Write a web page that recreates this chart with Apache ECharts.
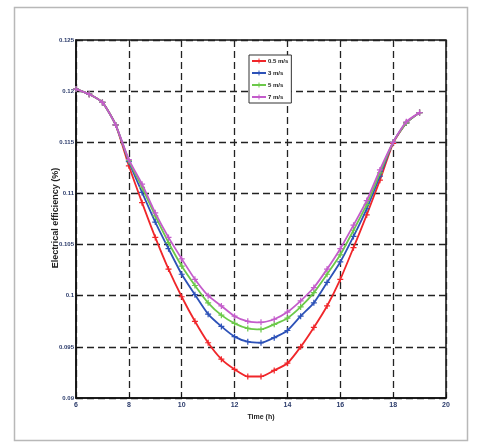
<!DOCTYPE html>
<html><head><meta charset="utf-8">
<script src="https://cdn.jsdelivr.net/npm/echarts@6/dist/echarts.min.js"></script>
<style>html,body{margin:0;padding:0;background:#fff}#c{width:482px;height:443px}</style>
</head><body><div id="c"></div>
<script>
const times = [6,6.5,7,7.5,8,8.5,9,9.5,10,10.5,11,11.5,12,12.5,13,13.5,14,14.5,15,15.5,16,16.5,17,17.5,18,18.5,19];
const s05 = [0.1202,0.1197,0.1189,0.1167,0.1127,0.1091,0.1057,0.1026,0.0999,0.0975,0.0954,0.0938,0.0928,0.0921,0.0921,0.0927,0.0934,0.0950,0.0969,0.0990,0.1016,0.1047,0.1079,0.1113,0.1149,0.1169,0.1179];
const s3  = [0.1202,0.1197,0.1189,0.1167,0.1131,0.1101,0.1072,0.1046,0.1021,0.1001,0.0982,0.0970,0.0960,0.0955,0.0954,0.0959,0.0966,0.0980,0.0993,0.1013,0.1033,0.1058,0.1085,0.1117,0.1150,0.1169,0.1179];
const s5  = [0.1202,0.1197,0.1189,0.1167,0.1132,0.1106,0.1078,0.1052,0.1029,0.1010,0.0993,0.0981,0.0973,0.0968,0.0967,0.0972,0.0978,0.0989,0.1003,0.1021,0.1040,0.1064,0.1089,0.1120,0.1150,0.1169,0.1179];
const s7  = [0.1202,0.1197,0.1189,0.1167,0.1133,0.1109,0.1081,0.1057,0.1036,0.1016,0.1000,0.0990,0.0980,0.0975,0.0974,0.0977,0.0984,0.0995,0.1008,0.1026,0.1046,0.1069,0.1093,0.1123,0.1150,0.1170,0.1179];
const seriesNames = ['0.5 m/s','3 m/s','5 m/s','7 m/s'];
const seriesData = [s05, s3, s5, s7];
const colors = ['#f0262a','#2d52b8','#6cc94a','#c45ccb'];
const yTitle = 'Electrical efficiency (%)';

const plus = 'path://M4,0L6,0L6,4L10,4L10,6L6,6L6,10L4,10L4,6L0,6L0,4L4,4Z';
const chart = echarts.init(document.getElementById('c'));
const dash = {type:[7,4], color:'#222', width:1.3};
chart.setOption({
  animation:false,
  backgroundColor:'#fff',
  graphic:[
    {type:'rect', shape:{x:14.5,y:7.5,width:453,height:433}, style:{fill:'none', stroke:'#b8b8b8', lineWidth:1.5}, silent:true},
    {type:'text', x:56, y:218, rotation:Math.PI/2, silent:true,
     style:{text:yTitle, fontSize:9, fontWeight:'bold', fill:'#222', fontFamily:'Liberation Sans', align:'center', verticalAlign:'middle'}}
  ],
  grid:{left:76, right:36, top:40, bottom:45, show:true, borderColor:'#111', borderWidth:1.5, backgroundColor:'transparent'},
  legend:{
    data:seriesNames, orient:'vertical', left:249, top:55, itemWidth:14, itemHeight:6, itemGap:6,
    backgroundColor:'#fff', borderColor:'#333', borderWidth:1, padding:[3,3,3,2],
    textStyle:{fontSize:6, fontWeight:'bold', color:'#222', fontFamily:'Liberation Sans', padding:[0,0,0,-3]}
  },
  xAxis:{type:'value', min:6, max:20, interval:2,
    name:'Time (h)', nameLocation:'middle', nameGap:15,
    nameTextStyle:{fontSize:7, fontWeight:'bold', color:'#222', fontFamily:'Liberation Sans'},
    axisLine:{show:true, lineStyle:{color:'#111', width:1.5}},
    axisTick:{inside:true, length:4, lineStyle:{color:'#111'}},
    axisLabel:{fontSize:7, fontWeight:'bold', color:'#2a3a6a', margin:4, fontFamily:'Liberation Sans'},
    splitLine:{show:true, lineStyle:dash}
  },
  yAxis:{type:'value', min:0.09, max:0.125, interval:0.005,
    axisLine:{show:true, lineStyle:{color:'#111', width:1.5}},
    axisTick:{inside:true, length:4, lineStyle:{color:'#111'}},
    axisLabel:{fontSize:6, fontWeight:'bold', color:'#2a3a6a', margin:2, fontFamily:'Liberation Sans',
      formatter:v=>String(parseFloat(v.toFixed(3)))},
    splitLine:{show:true, lineStyle:dash}
  },
  series: seriesNames.map((n,i)=>({
    name:n, type:'line', data: times.map((t,j)=>[t, seriesData[i][j]]),
    symbol:plus, symbolSize:6, showSymbol:true, smooth:0.2,
    lineStyle:{color:colors[i], width:1.8},
    itemStyle:{color:colors[i]}, z:2+i
  }))
});
</script></body></html>
